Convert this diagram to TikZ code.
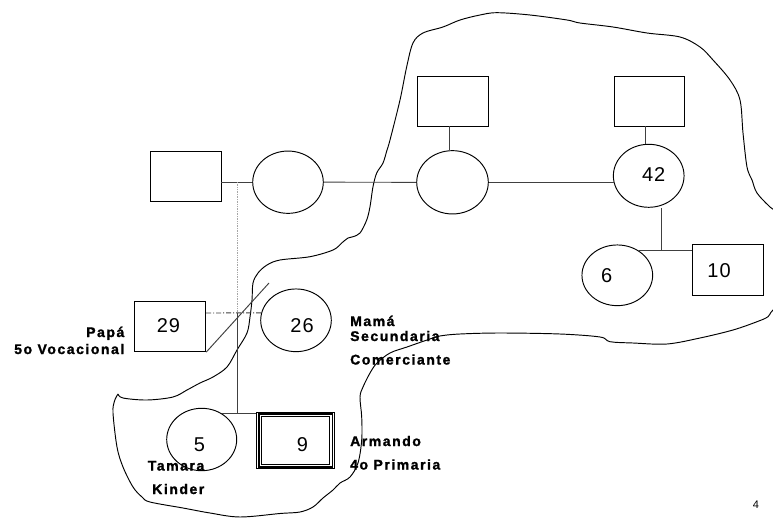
\documentclass[tikz,border=0pt]{standalone}
\usepackage{fontspec}
\setmainfont{Liberation Sans}
\newfontfamily\lblfont{Liberation Sans Bold}[LetterSpace=11, FakeBold=1.4]
\newfontfamily\numfont{Liberation Sans}[LetterSpace=5]
\usetikzlibrary{shapes.geometric}
\tikzset{
  person/.style={draw=black, line width=0.95pt, inner sep=0pt},
  male/.style={person, rectangle, minimum width=71, minimum height=50},
  female/.style={person, ellipse},
  link/.style={draw=black!75, line width=0.95pt},
  lbl/.style={font=\fontsize{14}{16}\lblfont, anchor=base west, inner sep=0pt},
  num/.style={font=\fontsize{20}{24}\numfont, anchor=base, inner sep=0pt},
  blob/.style={draw=black, line width=0.95pt}
}
\begin{document}
\begin{tikzpicture}[x=1pt,y=-1pt]
\useasboundingbox (0,0) rectangle (773,519);
\fill[white] (0,0) rectangle (773,519);

% outline blob
\begin{scope}
\clip (0,0) rectangle (773,519);
\draw[blob] plot[smooth, tension=0.55] coordinates {
 (118,394) (123,398) (147,400) (173,397) (187,390) (200,383) (213,377) (227,367)
 (237,350) (247,333) (250,317) (252,300) (253,283) (258,273) (267,265) (280,260)
 (310,256.7) (333,250) (341.7,243) (348,238) (353,236.7) (360,233) (366.7,220)
 (370,206.7) (373,186.7) (376.7,173) (383,163) (387,150) (390,140) (400,100)
 (406.7,66.7) (413,43) (423,33) (443,27) (460,20) (480,15) (497,12.7) (530,15)
 (567,20) (580,23) (613,27) (647,33) (680,37) (700,47) (713,60) (730,80) (740,100)
 (743,133) (747,167) (752,180) (757,193) (770,207) (790,225) (795,290) (773,310)
 (768,316.7) (757,321.7) (733,330) (700,338) (667,344) (633,343) (610,341.7)
 (600,337) (560,334) (500,333) (460,334) (440,336) (427,340) (407,347) (390,353)
 (377,363) (370,373) (363,387) (360,397) (361.7,417) (361.7,440) (358,463) (350,477)
 (340,483) (333,490) (323,498) (313,507) (300,512) (280,513.5) (240,517) (210,513)
 (183,508) (150,502) (142,497) (133,487) (123,467) (117,447) (113,413) (114.5,401) (118,394)
};
\end{scope}

% persons
\node[male] (sqA) at (185.5,176) {};
\node[female, minimum width=70.6, minimum height=62.3] (c1) at (288,182.2) {};
\node[female, minimum width=71.6, minimum height=63.3] (c2) at (452.5,182.3) {};
\node[male] (sqB) at (452.8,101) {};
\node[female, minimum width=70.7, minimum height=63] (c42) at (648.7,175.8) {};
\node[male, minimum width=70] (sqC) at (649,101) {};
\node[female, minimum width=70.7, minimum height=60.7] (c6) at (617.3,275.3) {};
\node[male, minimum width=71.3, minimum height=50.7] (sq10) at (727.7,270.3) {};
\node[male, minimum width=71.4] (sq29) at (170,326.7) {};
\node[female, minimum width=70.6, minimum height=62.7] (c26) at (296,320.3) {};
\node[female, minimum width=70, minimum height=62.4] (c5) at (201.7,439.5) {};
\node[person, rectangle, minimum width=78.3, minimum height=56] (box9) at (295.8,440.3) {};
\draw[line width=1.7pt] ([xshift=2.8pt,yshift=-2.4pt]box9.north west) rectangle ([xshift=-2.8pt,yshift=2pt]box9.south east);
\draw[line width=0.95pt] ([xshift=5.6pt,yshift=-4.6pt]box9.north west) rectangle ([xshift=-6.2pt,yshift=4.2pt]box9.south east);

% junction points
\coordinate (j0) at (237,182);
\coordinate (j2) at (237,313);
\coordinate (j3) at (237,414);
\coordinate (j1) at (661,251);
\coordinate (dEnd) at (269,283);

% connectors
\draw[link] (sqA.east |- c1.west) -- (c1.west);
\draw[link] (c1.east) -- (c2.west);
\draw[link] (c2.east) -- ([xshift=0.8pt]c2.east -| c42.west);
\draw[link] ([xshift=-3.8pt]sqB.south) -- ([xshift=-3.8pt]sqB.south |- c2.north);
\draw[link] ([xshift=-4pt]sqC.south) -- ([xshift=-4pt]sqC.south |- c42.north);
\draw[link] (j1 |- c42.south) -- (j1);
\draw[link] (c6.49) -- (c6.49 -| sq10.west);
\draw[gray!70, densely dotted, line width=0.7pt] (j0) -- (j2);
\draw[link, dash pattern=on 5pt off 2pt on 1pt off 2pt] (sq29.east |- j2) -- (c26.168);
\draw[link] (j2) -- (j3);
\draw[link] (c5.52) -- (c5.52 -| box9.west);
\draw[link] (sq29.south east) -- (dEnd);

% numbers
\node[num] (t42) at (653.7,181.7) {42};
\node[num] (t6) at (606.7,282) {6};
\node[num] (t10) at (719,277) {10};
\node[num] (t29) at (168.5,332.3) {29};
\node[num] (t26) at (302,332.3) {26};
\node[num] (t5) at (199.5,451) {5};
\node[num] (t9) at (302.5,451) {9};

% labels
\node[lbl, anchor=base east] (papa) at (124.5,337) {Papá};
\node[lbl, anchor=base east] (papa2) at (124.5,354) {5o Vocacional};
\node[lbl] (mama) at (350,326) {Mamá};
\node[lbl] (mama2) at (350,341) {Secundaria};
\node[lbl] (mama3) at (350,364.5) {Comerciante};
\node[lbl] (arm) at (350,446) {Armando};
\node[lbl] (arm2) at (350,469.5) {4o Primaria};
\node[lbl, anchor=base east] (tam) at (204.5,470.5) {Tamara};
\node[lbl, anchor=base east] (tam2) at (204.5,494) {Kinder};
\node[font=\fontsize{11}{13}\selectfont, anchor=base, inner sep=0pt] (pg) at (756,508.3) {4};
\end{tikzpicture}
\end{document}
